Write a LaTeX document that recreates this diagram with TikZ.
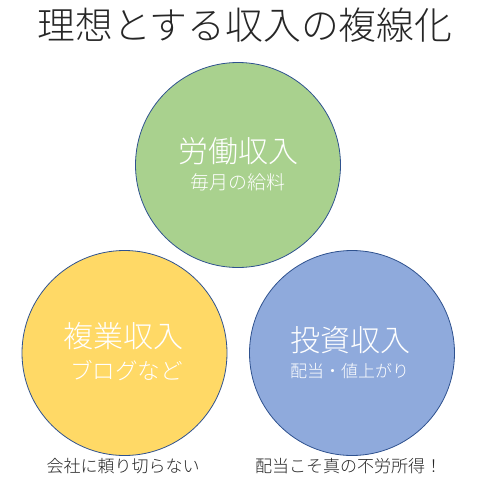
\documentclass[tikz,border=0pt]{standalone}
\usepackage{fontspec}
\setmainfont{Noto Sans CJK JP}[UprightFont=* Light]
\definecolor{cgreen}{HTML}{A9D18E}
\definecolor{cyellow}{HTML}{FFD966}
\definecolor{cblue}{HTML}{8FAADC}
\definecolor{cedge}{HTML}{2F528F}
\definecolor{ctext}{HTML}{262626}
\tikzset{
  bubble/.style={circle, draw=cedge, line width=0.8pt, minimum size=205pt, inner sep=0pt},
  bigtxt/.style={text=white, inner sep=0pt, font=\fontsize{30}{30}\selectfont},
  subtxt/.style={text=white, inner sep=0pt},
  note/.style={text=ctext, inner sep=0pt, font=\fontsize{17}{17}\selectfont},
}
\begin{document}
\begin{tikzpicture}[x=1pt,y=1pt]
\useasboundingbox (0,0) rectangle (478,-482);
\fill[white] (0,0) rectangle (478,-482);
\node[text=ctext, inner sep=0pt, font=\fontsize{37.8}{38}\selectfont] (title) at (245,-25) {理想とする収入の複線化};
\node[bubble, fill=cgreen] (labor) at (238,-165) {};
\node[bubble, fill=cyellow] (side) at (124.5,-353) {};
\node[bubble, fill=cblue] (invest) at (352,-353) {};
\node[bigtxt] (laborT) at (238,-151) {労働収入};
\node[subtxt, font=\fontsize{19}{19}\selectfont] (laborS) at (238,-182) {毎月の給料};
\node[bigtxt] (sideT) at (123.5,-336) {複業収入};
\node[subtxt, font=\fontsize{22.6}{23}\selectfont] (sideS) at (126.5,-371) {ブログなど};
\node[bigtxt] (investT) at (350.5,-340) {投資収入};
\node[subtxt, font=\fontsize{17}{17}\selectfont] (investS) at (349.5,-371) {配当・値上がり};
\node[note] (sideN) at (123,-466) {会社に頼り切らない};
\node[note] (investN) at (348.5,-466) {配当こそ真の不労所得！};
\end{tikzpicture}
\end{document}
